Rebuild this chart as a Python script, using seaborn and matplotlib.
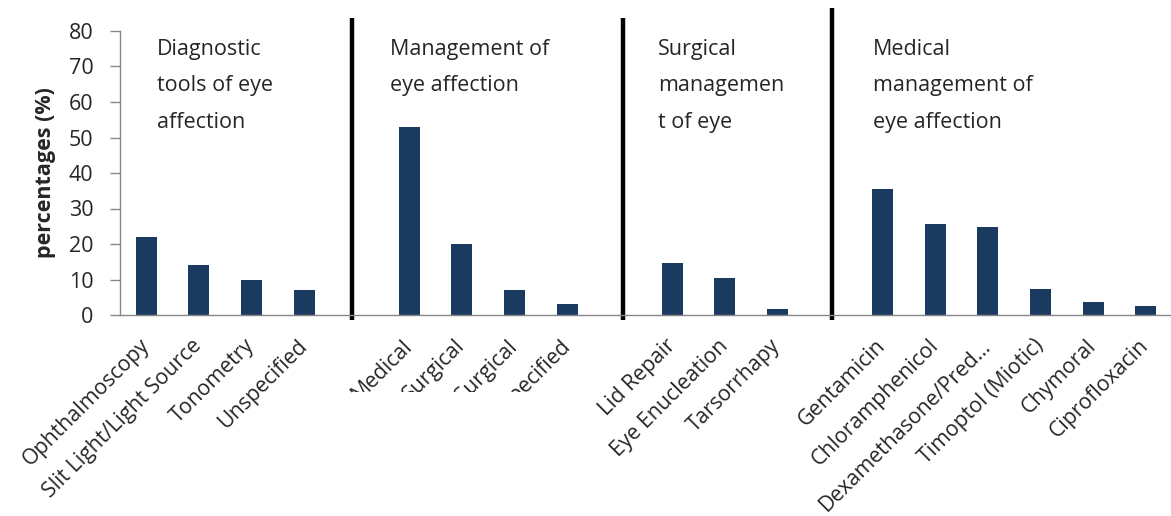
import numpy as np
import pandas as pd
import matplotlib.pyplot as plt
from matplotlib.patches import Rectangle
import seaborn as sns

# Values
diag_labels = ["Ophthalmoscopy", "Slit Light/Light Source", "Tonometry", "Unspecified"]
diag_vals = [22, 14, 10, 7]
mgmt_labels = ["Medical", "Surgical", "Medical/Surgical", "Unspecified"]
mgmt_vals = [53, 20, 7, 3]
surg_labels = ["Lid Repair", "Eye Enucleation", "Tarsorrhapy"]
surg_vals = [14.6, 10.3, 1.7]
med_labels = ["Gentamicin", "Chloramphenicol", "Dexamethasone/Pred\u2026",
              "Timoptol (Miotic)", "Chymoral", "Ciprofloxacin"]
med_vals = [35.4, 25.6, 24.9, 7.3, 3.7, 2.6]

group_titles = ["Diagnostic\ntools of eye\naffection",
                "Management of\neye affection",
                "Surgical\nmanagemen\nt of eye",
                "Medical\nmanagement of\neye affection"]
y_ticks = [0, 10, 20, 30, 40, 50, 60, 70, 80]

groups = [(diag_labels, diag_vals), (mgmt_labels, mgmt_vals),
          (surg_labels, surg_vals), (med_labels, med_vals)]

# Build one slot per bar, with an empty slot between groups
rows = []
group_starts = []
slot = 0
for g, (labels, vals) in enumerate(groups):
    group_starts.append(slot)
    for lab, v in zip(labels, vals):
        rows.append({"pos": slot, "label": lab, "value": v, "group": g})
        slot += 1
    slot += 1  # gap slot
n_slots = slot - 1
df = pd.DataFrame(rows)

# hand placed bits of the original (offsets in slot units)
title_offsets = [0.2, -0.36, -0.27, -0.18]
sep_offsets = [-0.09, 0.06, 0.04]
sep_tops = [83.7, 83.7, 86.5]

sns.set_style("white")
plt.rcParams['font.family'] = ['Open Sans', 'DejaVu Sans']

fig = plt.figure(figsize=(11.71, 5.16), dpi=100)
ax = fig.add_axes([120 / 1171, 1 - 315 / 516, (1172 - 120) / 1171, (315 - 31) / 516])

sns.barplot(data=df, x="pos", y="value", native_scale=True, width=0.4,
            color="#1B3A5F", saturation=1, ax=ax, edgecolor="none")

ax.set_xlim(-0.5, n_slots - 0.5)
ax.set_ylim(0, 80)
ax.set_yticks(y_ticks)
ax.set_yticklabels([str(t) for t in y_ticks], fontsize=15.5)

# category labels at bar centres, tick marks on slot boundaries
ax.set_xticks(df["pos"].tolist())
ax.set_xticklabels(df["label"].tolist(), rotation=45, ha="right", va="center",
                   rotation_mode="anchor", fontsize=15.3)
ax.set_xticks(np.arange(-0.5, n_slots, 1.0), minor=True)
ax.tick_params(axis="x", which="major", length=0, pad=20)
ax.tick_params(axis="x", which="minor", length=7, width=1, color="#878787", direction="out")
ax.tick_params(axis="y", length=7, width=1, color="#878787", direction="out", left=True, pad=12)

for side in ["top", "right"]:
    ax.spines[side].set_visible(False)
for side in ["left", "bottom"]:
    ax.spines[side].set_color("#878787")
    ax.spines[side].set_linewidth(1)

ax.set_xlabel("")
ax.set_ylabel("percentages (%)", fontsize=15.5, fontweight="bold", labelpad=9)

# group titles and heavy separators between groups
for start, off, title in zip(group_starts, title_offsets, group_titles):
    ax.text(start + off, 77.8, title, fontsize=15.5,
            ha="left", va="top", linespacing=1.98)
for start, off, top in zip(group_starts[1:], sep_offsets, sep_tops):
    xs = start - 1 + off
    ax.plot([xs, xs], [-1.3, top], color="black", lw=3.2,
            clip_on=False, solid_capstyle="butt")

# the original cuts the lower part of the management-group labels
fig.add_artist(Rectangle((352 / 1171, 0), (592 - 352) / 1171, 1 - 392 / 516,
                         transform=fig.transFigure, facecolor="white",
                         edgecolor="none", zorder=10))

fig.savefig("out.png", dpi=100)
